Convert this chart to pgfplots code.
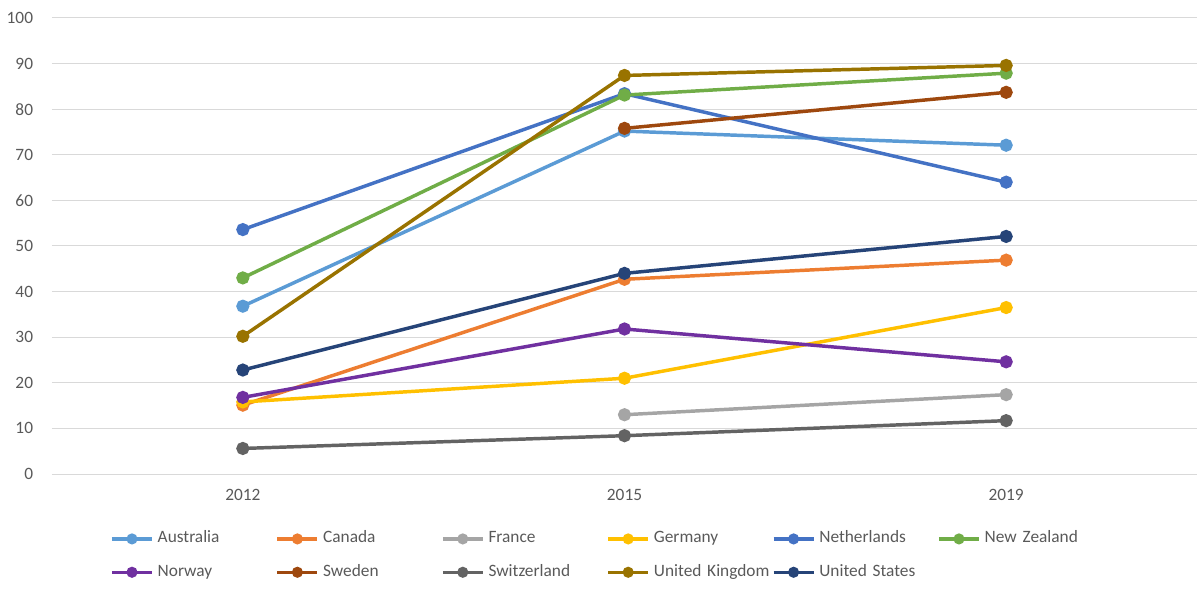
\documentclass[border=0pt]{standalone}
\usepackage{fontspec}
\setmainfont{Carlito}
\usepackage{pgfplots}
\pgfplotsset{compat=1.18}
\definecolor{cAus}{HTML}{5B9BD5}
\definecolor{cCan}{HTML}{ED7D31}
\definecolor{cFra}{HTML}{A5A5A5}
\definecolor{cGer}{HTML}{FFC000}
\definecolor{cNed}{HTML}{4472C4}
\definecolor{cNZ}{HTML}{70AD47}
\definecolor{cNor}{HTML}{7030A0}
\definecolor{cSwe}{HTML}{9E480E}
\definecolor{cSwi}{HTML}{636363}
\definecolor{cUK}{HTML}{997300}
\definecolor{cUS}{HTML}{264478}
\definecolor{gridc}{HTML}{D9D9D9}
\definecolor{tickc}{HTML}{595959}
\begin{document}
\begin{tikzpicture}
\useasboundingbox (-39pt,-86.25pt) rectangle (861pt,355.5pt);
\begin{axis}[
  at={(0pt,0pt)}, anchor=south west,
  scale only axis, width=858.75pt, height=342pt,
  xmin=-0.5, xmax=2.5, ymin=0, ymax=100,
  xtick={0,1,2}, xticklabels={2012,2015,2019},
  ytick={0,10,...,100},
  axis line style={draw=none},
  major tick length=0pt,
  xmajorgrids=false, ymajorgrids=true,
  major x grid style={draw=none},
  major y grid style={draw=gridc, line width=0.75pt},
  tick label style={font=\fontsize{13}{15}\selectfont, text=tickc},
  /pgf/number format/assume math mode=true,
  yticklabel style={inner sep=0pt, xshift=-14pt},
  xticklabel style={inner sep=0pt, yshift=-11pt},
  every axis plot/.append style={line width=2.6pt, mark=*, mark size=3.6pt, mark options={solid}},
  legend columns=6,
  legend style={at={(0,0)}, anchor=north west, xshift=43.5pt, yshift=-42.5pt,
    draw=none, fill=none, inner sep=0pt, row sep=13pt,
    font=\fontsize{13}{15}\selectfont, text=tickc,
    nodes={text width=85pt, inner sep=0pt, text height=9pt, text depth=3pt, align=left},
    /tikz/every odd column/.append style={column sep=3pt},
    /tikz/every even column/.append style={column sep=3.45pt}},
  legend image code/.code={
    \draw[#1, line width=2.6pt, mark=none] (0pt,0pt) -- (30pt,0pt);
    \draw[#1, mark size=2.8pt] plot coordinates {(15pt,0pt)};
  },
]
\addplot[color=cAus] coordinates {(0,36.8) (1,75.2) (2,72.1)};
\addlegendentry{Australia}
\addplot[color=cCan] coordinates {(0,15.1) (1,42.7) (2,46.9)};
\addlegendentry{Canada}
\addplot[color=cFra] coordinates {(1,13.0) (2,17.4)};
\addlegendentry{France}
\addplot[color=cGer] coordinates {(0,15.8) (1,21.0) (2,36.5)};
\addlegendentry{Germany}
\addplot[color=cNed] coordinates {(0,53.6) (1,83.4) (2,64.0)};
\addlegendentry{Netherlands}
\addplot[color=cNZ] coordinates {(0,43.0) (1,83.1) (2,87.9)};
\addlegendentry{New Zealand}
\addplot[color=cNor] coordinates {(0,16.8) (1,31.8) (2,24.6)};
\addlegendentry{Norway}
\addplot[color=cSwe] coordinates {(1,75.8) (2,83.7)};
\addlegendentry{Sweden}
\addplot[color=cSwi] coordinates {(0,5.6) (1,8.4) (2,11.7)};
\addlegendentry{Switzerland}
\addplot[color=cUK] coordinates {(0,30.2) (1,87.4) (2,89.6)};
\addlegendentry{\mbox{United Kingdom}}
\addplot[color=cUS] coordinates {(0,22.8) (1,44.0) (2,52.1)};
\addlegendentry{United States}
\end{axis}
\end{tikzpicture}
\end{document}
